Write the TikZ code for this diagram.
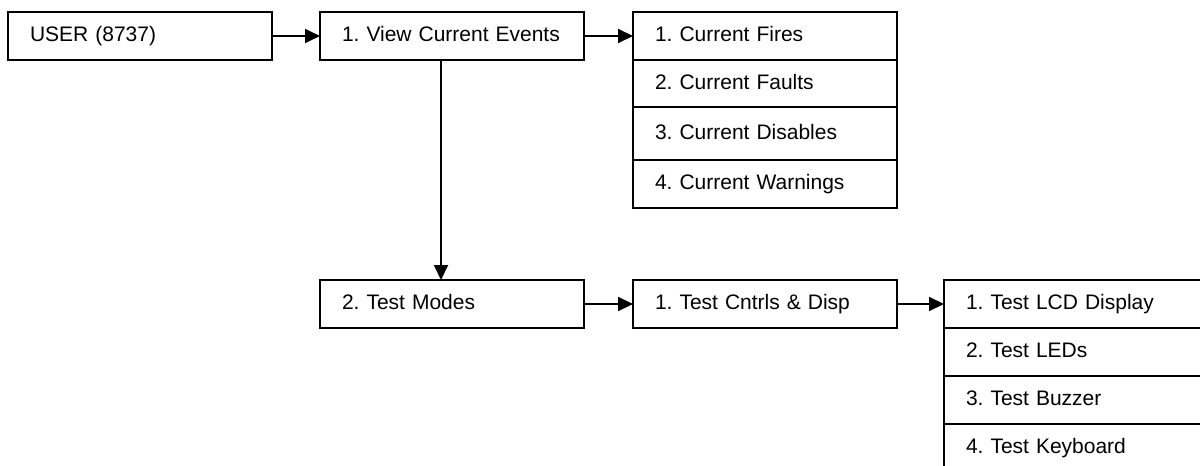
\documentclass[tikz,border=0pt]{standalone}
\usepackage{fontspec}
\setmainfont{Liberation Sans}
\usetikzlibrary{arrows.meta}
\usetikzlibrary{positioning}
\frenchspacing

\tikzset{
  menubox/.style={draw, rectangle, line width=0.7pt, anchor=north west,
    outer sep=0pt, minimum height=24pt, text width=110pt, inner xsep=11pt,
    text height=8pt, text depth=2.5pt,
    align=left, font=\fontsize{10.5}{12.6}\selectfont},
  menuarrow/.style={line width=1pt, -{Triangle[length=7.5pt,width=7pt]}}
}

\begin{document}
\begin{tikzpicture}[x=0.5pt, y=-0.5pt]
  \clip (0,0) rectangle (1200,466);          % page = 1200 x 466
  % top row
  \node[menubox] (user)  at (8,12)   {USER (8737)};
  \node[menubox] (view)  at (320,12) {1. View Current Events};
  \node[menubox] (fires) at (633,12) {1. Current Fires};
  \node[menubox, below=0pt of fires, minimum height=23.5pt] (faults) {2. Current Faults};
  \node[menubox, below=0pt of faults, minimum height=26.5pt] (disables) {3. Current Disables};
  \node[menubox, below=0pt of disables] (warnings) {4. Current Warnings};
  % bottom row
  \node[menubox] (modes)  at (320,280) {2. Test Modes};
  \node[menubox] (cntrls) at (633,280) {1. Test Cntrls \& Disp};
  \node[menubox] (lcd)    at (944,280) {1. Test LCD Display};
  \node[menubox, below=0pt of lcd]    (leds)   {2. Test LEDs};
  \node[menubox, below=0pt of leds]   (buzzer) {3. Test Buzzer};
  \node[menubox, below=0pt of buzzer] (keys)   {4. Test Keyboard};
  % arrows
  \draw[menuarrow] (user) -- (view);
  \draw[menuarrow] (view) -- (fires);
  \draw[menuarrow] ([xshift=-5.5pt]view.south) -- ([xshift=-5.5pt]modes.north);
  \draw[menuarrow] (modes) -- (cntrls);
  \draw[menuarrow] (cntrls) -- (lcd);
\end{tikzpicture}
\end{document}
